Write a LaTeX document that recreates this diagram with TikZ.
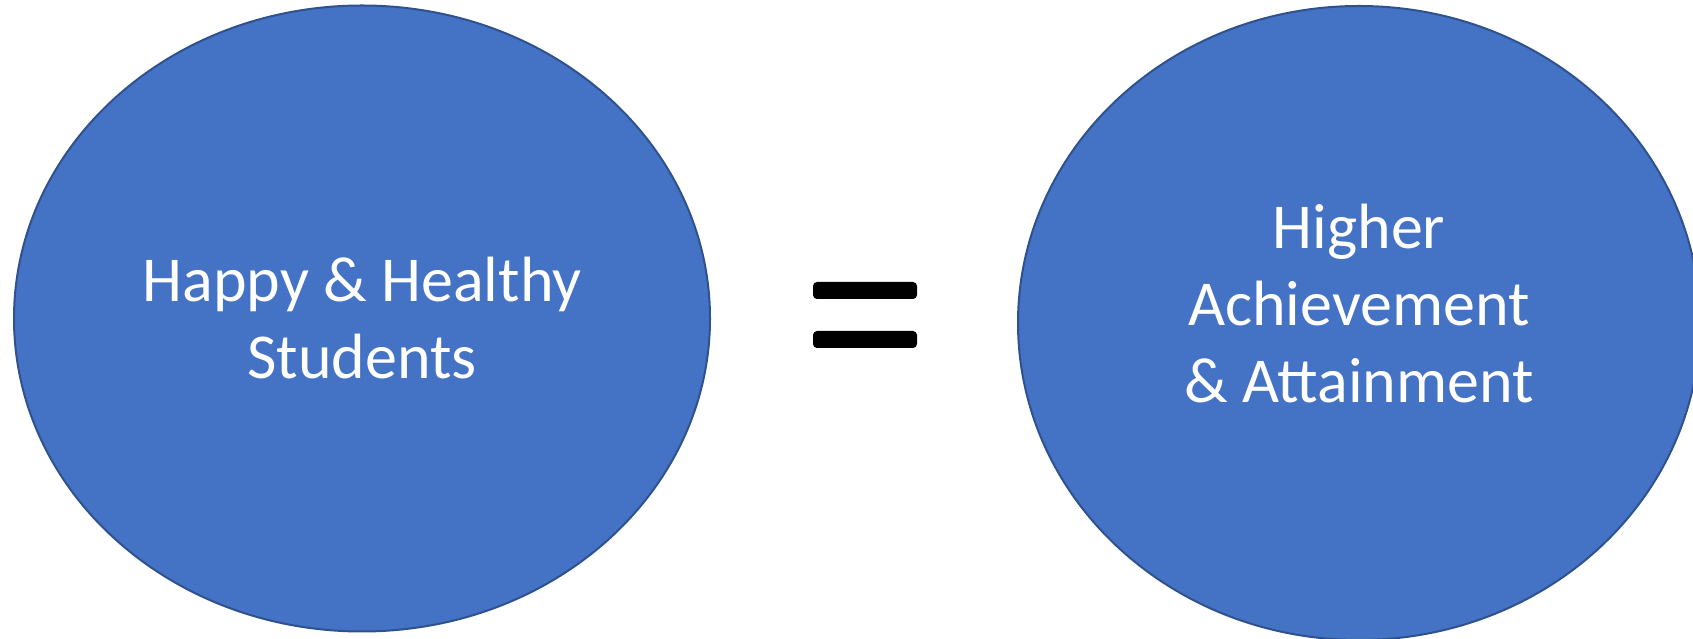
\documentclass[tikz,border=0pt]{standalone}
\usepackage{fontspec}
\setmainfont{Carlito}
\usepackage{xcolor}
\usetikzlibrary{shapes.geometric, positioning}
\definecolor{officeblue}{HTML}{4472C4}
\definecolor{officeedge}{HTML}{2F528F}

\begin{document}
\begin{tikzpicture}[x=1pt, y=1pt, bubble/.style={ellipse, draw=officeedge, line width=2pt, fill=officeblue, inner sep=0pt}, caption/.style={text=white, align=center, font=\fontsize{64}{77}\selectfont}, bar/.style={fill=black, rounded corners=4pt}]
    \useasboundingbox (0,0) rectangle (1693,639);
    \clip (0,0) rectangle (1693,639);
    \node[bubble, minimum width=696pt, minimum height=626pt] (happy) at (362,320.5) {};
    \node[bubble, minimum width=682pt, minimum height=634pt] (higher) at (1359,316) {};
    \node[caption] (happytext) at (happy.center) {Happy \& Healthy\\Students};
    \node[caption] (highertext) at ([yshift=19pt]higher.center) {Higher\\Achievement\\\& Attainment};

    % equals sign
    \coordinate (eq) at (865,324);
    \fill[bar] ([xshift=-52pt, yshift=16pt]eq) rectangle ([xshift=52pt, yshift=33pt]eq);
    \fill[bar] ([xshift=-52pt, yshift=-33pt]eq) rectangle ([xshift=52pt, yshift=-16pt]eq);
\end{tikzpicture}
\end{document}
